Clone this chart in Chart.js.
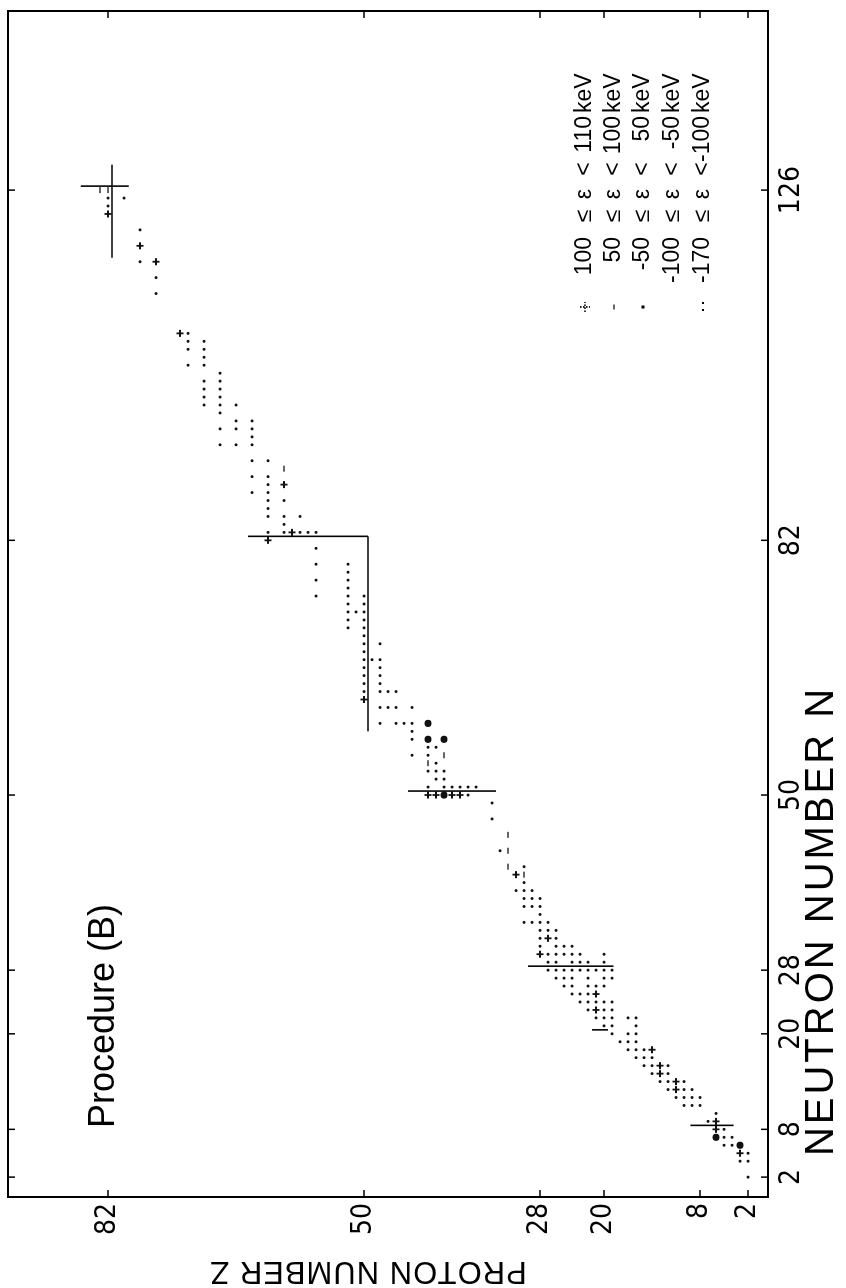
<!DOCTYPE html>
<html>
<head>
<meta charset="utf-8">
<script src="https://cdn.jsdelivr.net/npm/chart.js@4.4.1/dist/chart.umd.min.js"></script>
<style>
    html, body { margin: 0; padding: 0; background: #fff; overflow: hidden; }
    /* the figure is printed sideways: draw it landscape, then turn it */
    #wrap {
        position: absolute; left: 0; top: 0;
        width: 1288px; height: 846px;
        transform-origin: 0 0;
        transform: translateY(1288px) rotate(-90deg);
    }
</style>
</head>
<body>
<div id="wrap"><canvas id="chart" width="1288" height="846"></canvas></div>
<script>
/* NUCLIDE CHART DATA (N = neutrons, Z = protons) */

const nTicks = [2, 8, 20, 28, 50, 82, 126];
const zTicks = [2, 8, 20, 28, 50, 82];

// small dots, one row per neutron number: [N, [Z, Z, ...]]
const dotRows = [
    [125, [82, 80]], [124, [82]], [121, [78]], [117, [78]], [115, [76]], [113, [76]],
    [108, [72]], [107, [72, 70]], [106, [72, 70]], [105, [70]], [104, [72, 70]],
    [103, [68]], [102, [70, 68]], [101, [70, 68]], [100, [70, 68]], [99, [70, 68, 66]],
    [98, [68]], [97, [66, 64]], [96, [68, 66, 64]], [95, [64]], [94, [68, 66, 64]],
    [92, [64, 62]], [90, [64, 62]], [89, [62]], [88, [64, 62]], [87, [62, 60]],
    [86, [62]], [85, [62, 60, 58]], [84, [60]], [83, [62, 60, 58, 57, 56]],
    [81, [56]], [79, [56, 52]], [78, [52]], [77, [56, 52]], [76, [52]],
    [75, [56, 52, 50]], [74, [52, 50]], [73, [52, 51, 50]], [72, [52, 50]], [71, [52, 50]],
    [70, [50]], [69, [50, 48]], [68, [50]], [67, [50, 49, 48]], [66, [50, 48]],
    [65, [50, 48]], [64, [50, 48]], [63, [50, 48, 47, 46]], [61, [48, 47, 46, 44]],
    [59, [48, 46, 45, 44]], [58, [44]], [57, [44]], [56, [42, 41]], [55, [44, 42]],
    [54, [41]], [53, [42, 41, 40]], [52, [41, 40]], [51, [42, 40, 39, 38, 37, 36]],
    [50, [37]], [49, [34]], [47, [34]], [43, [33]], [41, [30]], [39, [30]],
    [38, [31, 30, 29]], [37, [30, 29, 28]], [36, [30, 29, 28]], [35, [28]],
    [34, [30, 29, 28, 27]], [33, [28, 27, 26]], [32, [28, 26]], [31, [28, 26, 25, 24]],
    [30, [27, 26, 25, 24, 23, 20]], [29, [27, 26, 24, 23, 22, 20]],
    [28, [27, 26, 25, 24, 23, 22, 21, 20, 19]], [27, [26, 25, 24, 22, 20, 19]],
    [26, [25, 24, 22, 21, 20]], [25, [24, 23, 22]], [24, [23, 22, 21, 20, 19]],
    [23, [22, 20, 19]], [22, [21, 20, 19, 17, 16]], [21, [20, 19, 16]], [20, [19, 17, 16]],
    [19, [18, 17, 16]], [18, [17, 16, 15]], [17, [16, 15, 14]], [16, [15, 14, 12]],
    [15, [14, 12]], [14, [13, 12, 10]], [13, [12, 10, 9]], [12, [11, 10, 9, 8]],
    [11, [10, 9, 8]], [10, [6]], [9, [7]], [8, [5]], [7, [5, 4]], [6, [5, 4]],
    [5, [2]], [4, [3, 2]], [2, [2]]
];

// heavier marks [N, Z]
const boldCrosses = [
    [123, 82], [119, 78], [117, 76], [108, 73], [89, 60], [83, 59], [82, 62], [62, 50],
    [50, 42], [50, 41], [50, 39], [50, 38], [40, 31], [32, 27], [30, 28], [25, 21],
    [23, 21], [18, 14], [16, 13], [15, 13], [14, 11], [13, 11], [9, 6], [8, 6], [5, 3]
];
const bigDots = [[59, 42], [57, 42], [57, 40], [50, 40], [7, 6], [6, 3]];
const dashMarks = [[126, 83], [126, 82], [91, 60], [55, 40], [54, 42], [45, 32], [43, 32], [41, 32], [40, 30]];

// shell closure lines [N1, Z1, N2, Z2]
const shellLines = [
    [126.5, 79.4, 126.5, 85.4], [117.5, 81.5, 129.2, 81.5],
    [82.5, 49.5, 82.5, 64.5], [58, 49.5, 82.5, 49.5],
    [50.5, 33.5, 50.5, 44.5], [28.5, 18.8, 28.5, 29.5],
    [20.5, 19.5, 20.5, 21.5], [8.5, 3.8, 8.5, 9.2]
];

// legend: low <= eps < high
const legendLow = ['100', '50', '-50', '-100', '-170'];
const legendHigh = ['110', '100', '50', '-50', '-100'];

const NARROW = "'Liberation Sans Narrow', 'DejaVu Sans Condensed', 'Liberation Sans', sans-serif";
const SANS = "'Liberation Sans', Arimo, 'DejaVu Sans', sans-serif";

const toPts = arr => arr.map(p => ({ x: p[0], y: p[1] }));
const dotPts = dotRows.flatMap(r => r[1].map(z => ({ x: r[0], y: z })));

function scatterSet(data, style, radius, width) {
    return {
        type: 'scatter', data: data, pointStyle: style, pointRadius: radius,
        borderWidth: width, borderColor: '#111', backgroundColor: '#111'
    };
}

const lineSets = shellLines.map(s => ({
    type: 'line',
    data: [{ x: s[0], y: s[1] }, { x: s[2], y: s[3] }],
    borderColor: '#000', borderWidth: 1.6, pointRadius: 0, fill: false
}));

// no extra room for edge labels: the frame sits where the page put it
function noEdgePadding(s) {
    s.paddingTop = 0; s.paddingBottom = 0;
    s.paddingLeft = 0; s.paddingRight = 0;
}

// frame, inward ticks, titles and legend
const decor = {
    id: 'decor',
    afterDraw(chart) {
        const { ctx, chartArea: a, scales } = chart;
        const xs = scales.x, ys = scales.y;
        ctx.save();
        ctx.strokeStyle = '#000';
        ctx.lineWidth = 2;
        ctx.strokeRect(a.left, a.top, a.right - a.left, a.bottom - a.top);

        ctx.lineWidth = 1.5;
        ctx.beginPath();
        nTicks.forEach(v => {
            const px = xs.getPixelForValue(v);
            ctx.moveTo(px, a.bottom); ctx.lineTo(px, a.bottom - 7);
            ctx.moveTo(px, a.top); ctx.lineTo(px, a.top + 7);
        });
        zTicks.forEach(v => {
            const py = ys.getPixelForValue(v);
            ctx.moveTo(a.left, py); ctx.lineTo(a.left + 7, py);
            ctx.moveTo(a.right, py); ctx.lineTo(a.right - 7, py);
        });
        ctx.stroke();

        ctx.fillStyle = '#000';
        // axis titles
        ctx.font = '40px ' + SANS;
        ctx.letterSpacing = '3px';
        ctx.textAlign = 'center';
        ctx.textBaseline = 'middle';
        ctx.fillText('NEUTRON NUMBER N', 367, 822);

        ctx.save();
        ctx.translate(17, 368);
        ctx.rotate(-Math.PI / 2);
        ctx.font = '31px ' + SANS;
        ctx.letterSpacing = '1px';
        ctx.fillText('PROTON NUMBER Z', 0, 0);
        ctx.restore();
        ctx.letterSpacing = '0px';

        // panel label
        ctx.font = '36px ' + SANS;
        ctx.textAlign = 'left';
        ctx.textBaseline = 'alphabetic';
        ctx.fillText('Procedure (B)', 160, 114);

        // legend
        const rowsV = [585, 614, 643, 673, 703];
        ctx.font = '23px ' + SANS;
        ctx.textBaseline = 'middle';
        rowsV.forEach((v, i) => {
            ctx.textAlign = 'right';
            ctx.fillText(legendLow[i], 1051, v);
            ctx.fillText(legendHigh[i], 1172, v);
            ctx.textAlign = 'center';
            ctx.fillText('\u2264', 1072, v);
            ctx.fillText('\u03b5', 1094, v);
            ctx.fillText('<', 1119, v);
            ctx.textAlign = 'left';
            ctx.fillText('keV', 1175, v);
        });
        // legend symbols
        const mu = 981;
        ctx.lineWidth = 1.2;
        ctx.setLineDash([1.5, 1.5]);
        Chart.helpers.drawPoint(ctx, { pointStyle: 'cross', radius: 5, borderWidth: 1.2 }, mu, rowsV[0]);
        ctx.stroke();
        ctx.setLineDash([]);
        ctx.beginPath();
        ctx.moveTo(mu - 2.5, rowsV[1]); ctx.lineTo(mu + 2.5, rowsV[1]);
        ctx.stroke();
        ctx.fillRect(mu - 1.5, rowsV[2] - 1.5, 3, 3);
        ctx.fillRect(mu - 4, rowsV[4] - 1, 2, 2);
        ctx.fillRect(mu + 3, rowsV[4] - 1, 2, 2);
        ctx.restore();
    }
};

document.addEventListener('DOMContentLoaded', () => {
    const ctx = document.getElementById('chart');

    new Chart(ctx, {
        data: {
            datasets: [
                ...lineSets,
                scatterSet(dotPts, 'circle', 1.5, 0),
                scatterSet(toPts(boldCrosses), 'cross', 3.5, 1.8),
                scatterSet(toPts(bigDots), 'circle', 3.6, 0),
                scatterSet(toPts(dashMarks), 'line', 3, 1.3)
            ]
        },
        options: {
            responsive: false,
            animation: false,
            devicePixelRatio: 1,
            layout: { padding: { left: 0, top: 8, right: 11, bottom: 0 } },
            plugins: { legend: { display: false }, tooltip: { enabled: false } },
            scales: {
                x: {
                    type: 'linear', position: 'bottom', min: -0.5, max: 148.5,
                    grid: { display: false, drawTicks: false },
                    border: { display: false },
                    afterBuildTicks: s => { s.ticks = nTicks.map(v => ({ value: v })); },
                    afterFit: s => { s.height = 78; noEdgePadding(s); },
                    ticks: {
                        autoSkip: false, maxRotation: 0, padding: 7, color: '#000',
                        font: { family: NARROW, size: 28 }
                    }
                },
                y: {
                    type: 'linear', position: 'left', min: -0.5, max: 94.5,
                    grid: { display: false, drawTicks: false },
                    border: { display: false },
                    afterBuildTicks: s => { s.ticks = zTicks.map(v => ({ value: v })); },
                    afterFit: s => { s.width = 91; noEdgePadding(s); },
                    ticks: {
                        autoSkip: false, padding: 6, color: '#000',
                        font: { family: NARROW, size: 28 }
                    }
                }
            }
        },
        plugins: [decor]
    });
});
</script>
</body>
</html>
